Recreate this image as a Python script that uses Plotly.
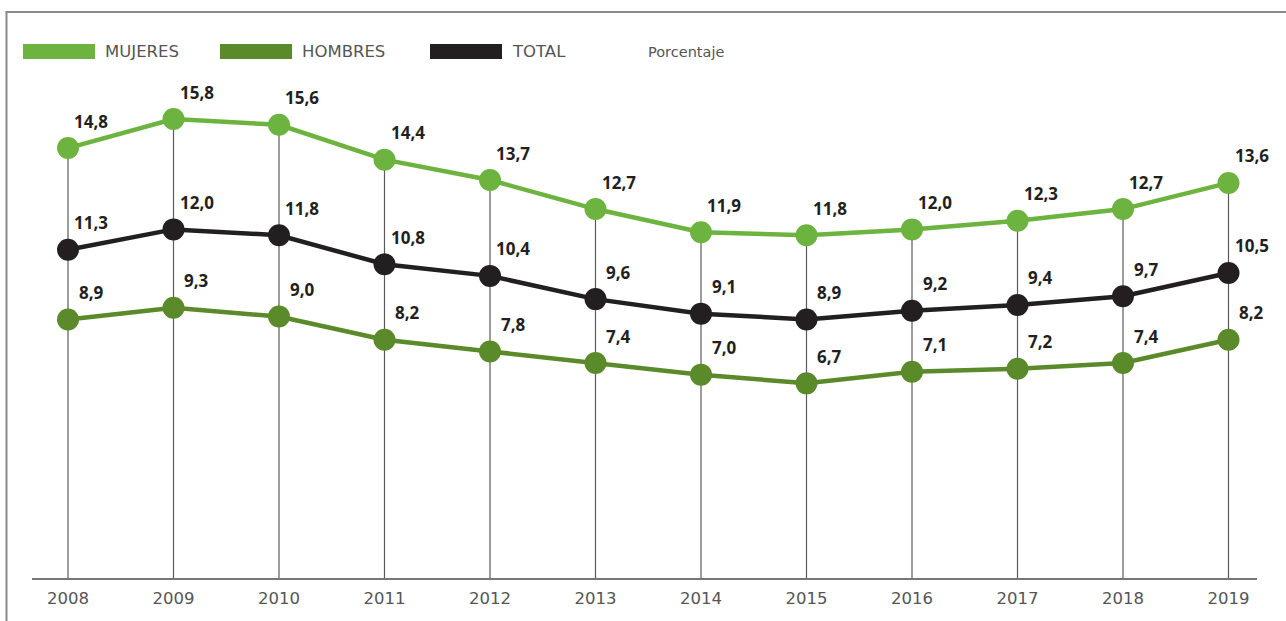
import plotly.graph_objects as go

# Tasa de desempleo por sexo (porcentaje)
years = [2008, 2009, 2010, 2011, 2012, 2013, 2014, 2015, 2016, 2017, 2018, 2019]
mujeres = [14.8, 15.8, 15.6, 14.4, 13.7, 12.7, 11.9, 11.8, 12.0, 12.3, 12.7, 13.6]
hombres = [8.9, 9.3, 9.0, 8.2, 7.8, 7.4, 7.0, 6.7, 7.1, 7.2, 7.4, 8.2]
total = [11.3, 12.0, 11.8, 10.8, 10.4, 9.6, 9.1, 8.9, 9.2, 9.4, 9.7, 10.5]
tick_labels = [str(y) for y in years]

C_MUJ = "#6db33f"
C_HOM = "#5b8a2a"
C_TOT = "#231f20"
C_TEXT = "#555555"

W, H = 1286, 621
L, R, T, B = 32, 1257, 60, 578
PX_PER_UNIT = 29.05


def px(x):
    return (x - L) / (R - L)


def py(y):
    return (B - y) / (B - T)


def fmt(v):
    return f"{v:.1f}".replace(".", ",")


fig = go.Figure()

# guías verticales desde cada punto superior hasta el eje
gx, gy = [], []
for yr, a, b, c in zip(years, mujeres, hombres, total):
    gx += [yr, yr, None]
    gy += [0, max(a, b, c), None]
fig.add_trace(go.Scatter(x=gx, y=gy, mode="lines",
                         line=dict(color="#5a5a5a", width=1.2),
                         hoverinfo="skip", showlegend=False))

series = [("MUJERES", mujeres, C_MUJ), ("HOMBRES", hombres, C_HOM), ("TOTAL", total, C_TOT)]
for name, vals, col in series:
    fig.add_trace(go.Scatter(x=years, y=vals, mode="lines+markers", name=name,
                             line=dict(color=col, width=4.5),
                             marker=dict(color=col, size=22),
                             showlegend=False))
    for yr, v in zip(years, vals):
        fig.add_annotation(x=yr, y=v, text=fmt(v), showarrow=False,
                           xshift=23, yshift=27,
                           font=dict(family="Open Sans", size=17, color=C_TOT, weight="bold"))

shapes = []
# marco
shapes.append(dict(type="line", xref="paper", yref="paper",
                   x0=px(6.5), x1=px(6.5), y0=py(12), y1=py(H + 5),
                   line=dict(color="#8a8a8a", width=2)))
shapes.append(dict(type="line", xref="paper", yref="paper",
                   x0=px(5.5), x1=px(W + 5), y0=py(12), y1=py(12),
                   line=dict(color="#8a8a8a", width=2)))

# leyenda
legend_items = [("MUJERES", C_MUJ, 23), ("HOMBRES", C_HOM, 220), ("TOTAL", C_TOT, 430)]
for name, col, x0 in legend_items:
    shapes.append(dict(type="rect", xref="paper", yref="paper",
                       x0=px(x0), x1=px(x0 + 72), y0=py(59), y1=py(44),
                       fillcolor=col, line=dict(width=0)))
    fig.add_annotation(xref="paper", yref="paper", x=px(x0 + 80), y=py(51.5),
                       xanchor="left", yanchor="middle", text=name, showarrow=False,
                       font=dict(family="DejaVu Sans", size=16.5, color=C_TEXT))
fig.add_annotation(xref="paper", yref="paper", x=px(646), y=py(51.5),
                   xanchor="left", yanchor="middle", text="Porcentaje", showarrow=False,
                   font=dict(family="DejaVu Sans", size=14.5, color=C_TEXT))

fig.update_layout(
    width=W, height=H,
    margin=dict(l=L, r=W - R, t=T, b=H - B, pad=0),
    paper_bgcolor="white", plot_bgcolor="white",
    shapes=shapes,
    showlegend=False,
    xaxis=dict(range=[years[0] - (68 - L) / 105.5, years[-1] + (R - 1228.5) / 105.5],
               tickmode="array", tickvals=years, ticktext=tick_labels,
               showgrid=False, zeroline=False, showline=True,
               linecolor="#777777", linewidth=2, ticks="", ticklabelstandoff=4,
               tickfont=dict(family="DejaVu Sans", size=16.5, color=C_TEXT)),
    yaxis=dict(range=[0, (B - T) / PX_PER_UNIT], visible=False, fixedrange=True),
)

fig.write_html("out.html")
